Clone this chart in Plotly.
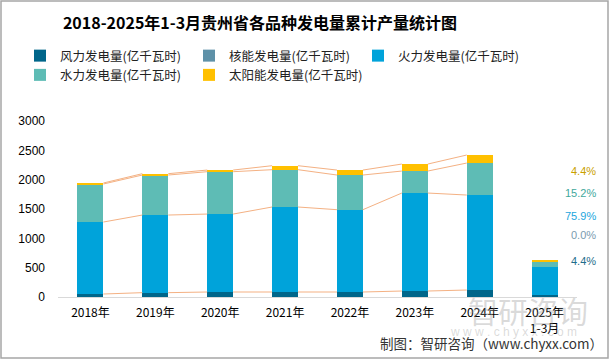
import plotly.graph_objects as go

years = ["2018年", "2019年", "2020年", "2021年", "2022年", "2023年", "2024年", "2025年<br>1-3月"]
wind = [51, 74, 85, 85, 85, 102, 119, 28]
nuclear = [0, 0, 0, 0, 0, 0, 0, 0]
thermal = [1227, 1323, 1329, 1449, 1403, 1670, 1619, 478]
hydro = [648, 682, 722, 636, 591, 375, 545, 96]
solar = [17, 23, 28, 68, 85, 119, 137, 28]
names = ["风力发电量(亿千瓦时)", "核能发电量(亿千瓦时)", "火力发电量(亿千瓦时)",
         "水力发电量(亿千瓦时)", "太阳能发电量(亿千瓦时)"]
colors = ["#00668A", "#5E91A8", "#00A3DA", "#5EBCB5", "#FFC000"]
shares = ["4.4%", "0.0%", "75.9%", "15.2%", "4.4%"]
share_colors = ["#1F6E8C", "#7A9BB0", "#1BA6DD", "#3FA89C", "#C9A000"]

series = [wind, nuclear, thermal, hydro, solar]
xs = list(range(len(years)))
bw = 0.4

L, R, T, B = 58, 32, 121, 62
W, H = 609, 359
PW, PH = W - L - R, H - T - B


def px(x):
    return (x - L) / PW


def py(y):
    return (H - B - y) / PH


fig = go.Figure()
for s, n, c in zip(series, names, colors):
    fig.add_trace(go.Bar(x=xs, y=s, name=n, marker=dict(color=c, line_width=0), width=bw))

# series connector lines (tops of cumulative stacks), 2018-2024
cum = [0] * len(years)
for idx, s in enumerate(series):
    cum = [a + b for a, b in zip(cum, s)]
    if idx == 1:
        continue
    lx, ly = [], []
    for i in range(len(years) - 2):
        lx += [xs[i] + bw / 2, xs[i + 1] - bw / 2, None]
        ly += [cum[i], cum[i + 1], None]
    fig.add_trace(go.Scatter(x=lx, y=ly, mode="lines", line=dict(color="#F4B183", width=1),
                             showlegend=False, hoverinfo="skip"))

# share labels on right
label_py = {4: 171, 3: 193, 2: 216, 1: 235, 0: 261}
for k in range(5):
    fig.add_annotation(xref="paper", yref="paper", x=px(598), y=py(label_py[k]),
                       text=shares[k], showarrow=False, xanchor="right", yanchor="middle",
                       font=dict(size=11, color=share_colors[k], family="Liberation Sans, Arial"))

# watermark
fig.add_annotation(xref="paper", yref="paper", x=px(528), y=py(310), xanchor="center", yanchor="middle",
                   text="智研咨询", showarrow=False, font=dict(size=30, color="rgba(150,150,150,0.35)",
                   family="Noto Sans CJK SC"))
fig.add_annotation(xref="paper", yref="paper", x=px(513), y=py(332), xanchor="center", yanchor="middle",
                   text="w w w . c h y x x . c o m", showarrow=False,
                   font=dict(size=12, color="rgba(150,150,150,0.35)", family="Liberation Sans"))
# footer
fig.add_annotation(xref="paper", yref="paper", x=px(605), y=py(343),
                   text="制图：智研咨询（www.chyxx.com）", showarrow=False, xanchor="right", yanchor="middle",
                   font=dict(size=13.5, color="#333333", family="Noto Sans CJK SC"))

# outer border
fig.add_shape(type="rect", xref="paper", yref="paper",
              x0=px(1), x1=px(608), y0=py(358), y1=py(1),
              line=dict(color="#A6A6A6", width=1.5))

fig.update_layout(
    width=W, height=H,
    margin=dict(l=L, r=R, t=T, b=B, autoexpand=False),
    barmode="stack",
    paper_bgcolor="white", plot_bgcolor="white",
    font=dict(family="Noto Sans CJK SC", size=12, color="#000"),
    title=dict(text="<b>2018-2025年1-3月贵州省各品种发电量累计产量统计图</b>",
               x=260 / W, xanchor="center", y=1 - 23 / H, yanchor="middle",
               font=dict(size=16, color="#000", family="Noto Sans CJK SC")),
    legend=dict(orientation="h", x=px(20), y=py(41), xanchor="left", yanchor="top",
                entrywidth=124, entrywidthmode="pixels", font=dict(size=12.5, color="#222"),
                itemwidth=30, traceorder="normal", tracegroupgap=0),
    xaxis=dict(tickmode="array", tickvals=xs, ticktext=years, range=[-0.5, 7.5],
               showline=True, linecolor="#D9D9D9", ticks="", showgrid=False, automargin=False,
               ticklabelstandoff=5, tickfont=dict(size=12, family="Noto Sans CJK SC")),
    yaxis=dict(range=[0, 3000], tickvals=[0, 500, 1000, 1500, 2000, 2500, 3000], showgrid=False,
               zeroline=False, ticks="", automargin=False, ticklabelstandoff=12,
               tickfont=dict(size=12, family="Liberation Sans, Arial")),
    showlegend=True,
)

fig.write_html("out.html", config={"displayModeBar": False},
               post_script="document.body.style.margin='0';")
